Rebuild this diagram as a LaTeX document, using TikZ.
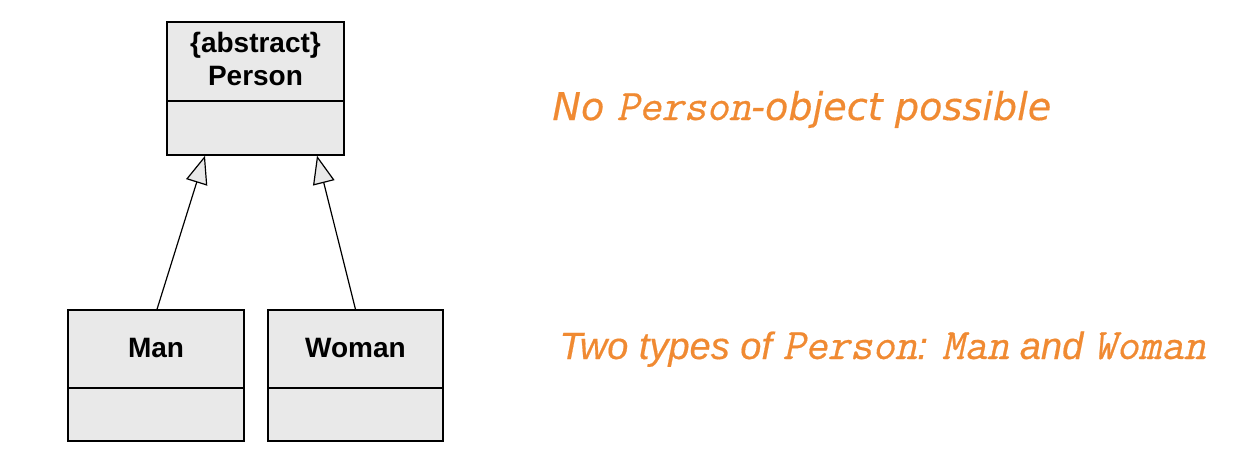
\documentclass[tikz,border=0pt]{standalone}
\usepackage{fontspec}
\setmainfont{Liberation Sans}
\newfontfamily\widesans{DejaVu Sans}[FakeBold=0.4]
\newfontfamily\notesans{Liberation Sans}[FakeBold=0.4]
\newfontfamily\courierfont{Latin Modern Mono}[UprightFeatures={FakeSlant=0.22,FakeBold=0.6}]
\usetikzlibrary{arrows.meta}
\definecolor{noteorange}{RGB}{240,138,50}
\definecolor{boxgray}{RGB}{233,233,233}
\newcommand{\codeword}[1]{{\courierfont\upshape\fontsize{21.8}{22}\selectfont #1}}
\begin{document}
\begin{tikzpicture}[
    classname/.style={rectangle,draw,line width=0.7pt,fill=boxgray,inner sep=0pt,
        align=center,font=\bfseries\fontsize{14}{16.5}\selectfont},
    classattr/.style={rectangle,draw,line width=0.7pt,fill=boxgray,inner sep=0pt},
    inherit/.style={line width=0.6pt,-{Triangle[open,fill=boxgray,length=14pt,width=11pt]}},
    note/.style={anchor=base west,inner sep=0pt,text=noteorange,
        font=\notesans\itshape\fontsize{19}{22}\selectfont}
]
\useasboundingbox (0,0) rectangle (626pt,-233pt);

\node[classname] (person)     at (127.75pt,-30.75pt) [minimum width=88.5pt,minimum height=39.5pt,text depth=3pt] {\{abstract\}\\Person};
\node[classattr] (personattr) at (127.75pt,-64pt)    [minimum width=88.5pt,minimum height=27pt]   {};
\node[classname] (man)        at (78pt,-174.5pt)     [minimum width=88pt,minimum height=39pt,text depth=1.5pt]     {Man};
\node[classattr] (manattr)    at (78pt,-207.25pt)    [minimum width=88pt,minimum height=26.5pt]   {};
\node[classname] (woman)      at (177.75pt,-174.5pt) [minimum width=87.5pt,minimum height=39pt,text depth=1.5pt]   {Woman};
\node[classattr] (womanattr)  at (177.75pt,-207.25pt)[minimum width=87.5pt,minimum height=26.5pt] {};

\coordinate (pleft)  at ([xshift=-25.25pt]personattr.south);
\coordinate (pright) at ([xshift=30.75pt]personattr.south);

\draw[inherit] ([xshift=0.5pt]man.north) -- (pleft);
\draw[inherit] (woman.north) -- (pright);

\node[note,font=\widesans\itshape\fontsize{19.1}{22}\selectfont] (nopobj) at (276pt,-60pt) {No \codeword{Person}-object possible};
\node[note] (types) at (279.5pt,-179.5pt) {Two types of \codeword{Person}: \codeword{Man} and \codeword{Woman}};
\end{tikzpicture}
\end{document}
